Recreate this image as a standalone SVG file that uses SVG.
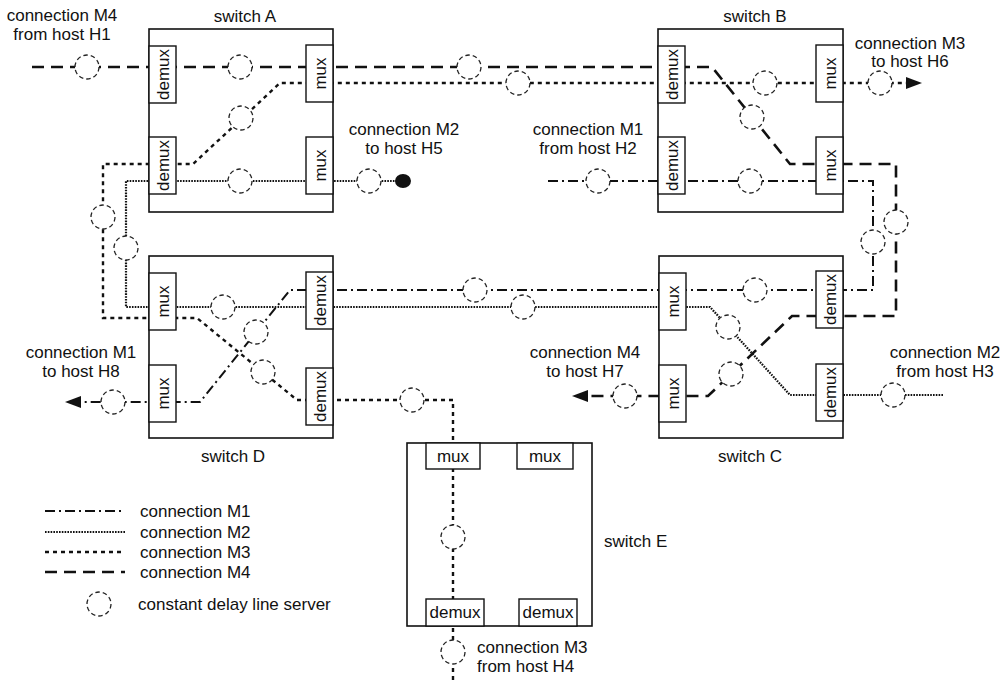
<svg xmlns="http://www.w3.org/2000/svg" width="1002" height="680" viewBox="0 0 1002 680">
<defs>
<style>
text{font-family:"Liberation Sans",Arial,Helvetica,sans-serif;font-size:17px;fill:#111}
.c{text-anchor:middle}
.sw{fill:none;stroke:#111;stroke-width:1.6}
.blk{fill:#fff;stroke:#111;stroke-width:1.4}
.srv{fill:#fff;stroke:#222;stroke-width:1.3;stroke-dasharray:4.5 3}
.m1{fill:none;stroke:#111;stroke-width:2;stroke-dasharray:10 4 2 4}
.m2{fill:none;stroke:#111;stroke-width:2.2;stroke-dasharray:1.6 1.2}
.m3{fill:none;stroke:#111;stroke-width:2.4;stroke-dasharray:4 4}
.m4{fill:none;stroke:#111;stroke-width:2.6;stroke-dasharray:12 7}
.arr{fill:#111}
</style>
</defs>
<rect width="1002" height="680" fill="#fff"/>

<g id="connectors">
  <path class="m4" d="M32,67 H712 L790,164 H896 V316 H792 L708,396 H588"/>
  <polygon class="arr" points="572,396 588,390 588,402"/>
  <path class="m3" d="M453,680 V400 H297 L197,318 H103 V164 H193 L280,83 H906"/>
  <polygon class="arr" points="922,83 906,77 906,89"/>
  <path class="m2" d="M943,395 H790 L710,307 H126 V181 H396"/>
  <ellipse class="arr" cx="403" cy="181" rx="8" ry="7"/>
  <path class="m1" d="M548,181 H873 V290 H290 L200,402 H80"/>
  <polygon class="arr" points="65,402 81,396 81,408"/>
</g>

<g id="servers">
  <circle class="srv" cx="87" cy="67" r="12"/>
  <circle class="srv" cx="240" cy="67" r="12"/>
  <circle class="srv" cx="469" cy="67" r="12"/>
  <circle class="srv" cx="752" cy="117" r="12"/>
  <circle class="srv" cx="896" cy="222" r="12"/>
  <circle class="srv" cx="731" cy="374" r="12"/>
  <circle class="srv" cx="625" cy="396" r="12"/>
  <circle class="srv" cx="453" cy="652" r="12"/>
  <circle class="srv" cx="453" cy="537" r="12"/>
  <circle class="srv" cx="412" cy="400" r="12"/>
  <circle class="srv" cx="263" cy="372" r="12"/>
  <circle class="srv" cx="103" cy="217" r="12"/>
  <circle class="srv" cx="241" cy="118" r="12"/>
  <circle class="srv" cx="518" cy="83" r="12"/>
  <circle class="srv" cx="765" cy="83" r="12"/>
  <circle class="srv" cx="880" cy="83" r="12"/>
  <circle class="srv" cx="893" cy="395" r="12"/>
  <circle class="srv" cx="728" cy="327" r="12"/>
  <circle class="srv" cx="523" cy="307" r="12"/>
  <circle class="srv" cx="223" cy="307" r="12"/>
  <circle class="srv" cx="126" cy="248" r="12"/>
  <circle class="srv" cx="240" cy="181" r="12"/>
  <circle class="srv" cx="369" cy="181" r="12"/>
  <circle class="srv" cx="598" cy="181" r="12"/>
  <circle class="srv" cx="750" cy="181" r="12"/>
  <circle class="srv" cx="873" cy="242" r="12"/>
  <circle class="srv" cx="755" cy="290" r="12"/>
  <circle class="srv" cx="475" cy="290" r="12"/>
  <circle class="srv" cx="256" cy="332" r="12"/>
  <circle class="srv" cx="113" cy="402" r="12"/>
</g>

<g id="switchA">
  <rect class="sw" x="149" y="29" width="184" height="183"/>
  <text class="c" x="245" y="22">switch A</text>
  <rect class="blk" x="149" y="46" width="27" height="57"/>
  <text class="c" transform="rotate(-90 162.5 74.5)" x="162.5" y="80.5">demux</text>
  <rect class="blk" x="149" y="137" width="27" height="57"/>
  <text class="c" transform="rotate(-90 162.5 165.5)" x="162.5" y="171.5">demux</text>
  <rect class="blk" x="306" y="45" width="27" height="57"/>
  <text class="c" transform="rotate(-90 319.5 73.5)" x="319.5" y="79.5">mux</text>
  <rect class="blk" x="306" y="137" width="27" height="57"/>
  <text class="c" transform="rotate(-90 319.5 165.5)" x="319.5" y="171.5">mux</text>
</g>

<g id="switchB">
  <rect class="sw" x="658" y="29" width="185" height="183"/>
  <text class="c" x="755" y="22">switch B</text>
  <rect class="blk" x="658" y="46" width="27" height="57"/>
  <text class="c" transform="rotate(-90 671.5 74.5)" x="671.5" y="80.5">demux</text>
  <rect class="blk" x="658" y="137" width="27" height="57"/>
  <text class="c" transform="rotate(-90 671.5 165.5)" x="671.5" y="171.5">demux</text>
  <rect class="blk" x="816" y="45" width="27" height="57"/>
  <text class="c" transform="rotate(-90 829.5 73.5)" x="829.5" y="79.5">mux</text>
  <rect class="blk" x="816" y="137" width="27" height="57"/>
  <text class="c" transform="rotate(-90 829.5 165.5)" x="829.5" y="171.5">mux</text>
</g>

<g id="switchD">
  <rect class="sw" x="149" y="256" width="184" height="182"/>
  <text class="c" x="233" y="462">switch D</text>
  <rect class="blk" x="149" y="273" width="27" height="57"/>
  <text class="c" transform="rotate(-90 162.5 301.5)" x="162.5" y="307.5">mux</text>
  <rect class="blk" x="149" y="365" width="27" height="57"/>
  <text class="c" transform="rotate(-90 162.5 393.5)" x="162.5" y="399.5">mux</text>
  <rect class="blk" x="306" y="272" width="27" height="57"/>
  <text class="c" transform="rotate(-90 319.5 300.5)" x="319.5" y="306.5">demux</text>
  <rect class="blk" x="306" y="368" width="27" height="57"/>
  <text class="c" transform="rotate(-90 319.5 396.5)" x="319.5" y="402.5">demux</text>
</g>

<g id="switchC">
  <rect class="sw" x="659" y="256" width="184" height="182"/>
  <text class="c" x="750" y="462">switch C</text>
  <rect class="blk" x="659" y="273" width="27" height="57"/>
  <text class="c" transform="rotate(-90 672.5 301.5)" x="672.5" y="307.5">mux</text>
  <rect class="blk" x="659" y="365" width="27" height="57"/>
  <text class="c" transform="rotate(-90 672.5 393.5)" x="672.5" y="399.5">mux</text>
  <rect class="blk" x="816" y="271" width="27" height="57"/>
  <text class="c" transform="rotate(-90 829.5 299.5)" x="829.5" y="305.5">demux</text>
  <rect class="blk" x="816" y="364" width="27" height="57"/>
  <text class="c" transform="rotate(-90 829.5 392.5)" x="829.5" y="398.5">demux</text>
</g>

<g id="switchE">
  <rect class="sw" x="407" y="443" width="185" height="183"/>
  <text x="604" y="547">switch E</text>
  <rect class="blk" x="426" y="443" width="54" height="26"/>
  <text class="c" x="453" y="462">mux</text>
  <rect class="blk" x="517" y="443" width="56" height="26"/>
  <text class="c" x="545" y="462">mux</text>
  <rect class="blk" x="426" y="599" width="58" height="27"/>
  <text class="c" x="455" y="618">demux</text>
  <rect class="blk" x="519" y="599" width="58" height="27"/>
  <text class="c" x="548" y="618">demux</text>
</g>

<g id="host-labels">
  <text class="c" x="62" y="21">connection M4</text>
  <text class="c" x="62" y="40">from host H1</text>
  <text class="c" x="910" y="49">connection M3</text>
  <text class="c" x="910" y="67">to host H6</text>
  <text class="c" x="404" y="135">connection M2</text>
  <text class="c" x="404" y="154">to host H5</text>
  <text class="c" x="588" y="135">connection M1</text>
  <text class="c" x="588" y="154">from host H2</text>
  <text class="c" x="81" y="358">connection M1</text>
  <text class="c" x="81" y="377">to host H8</text>
  <text class="c" x="585" y="358">connection M4</text>
  <text class="c" x="585" y="377">to host H7</text>
  <text class="c" x="945" y="358">connection M2</text>
  <text class="c" x="945" y="377">from host H3</text>
  <text x="477" y="653">connection M3</text>
  <text x="477" y="672">from host H4</text>
</g>

<g id="legend">
  <path class="m1" d="M45,511 H125"/>
  <text x="140" y="517">connection M1</text>
  <path class="m2" d="M45,532 H125"/>
  <text x="140" y="538">connection M2</text>
  <path class="m3" d="M45,552 H125"/>
  <text x="140" y="558">connection M3</text>
  <path class="m4" d="M45,572 H125"/>
  <text x="140" y="578">connection M4</text>
  <circle class="srv" cx="99" cy="604" r="12"/>
  <text x="138" y="610">constant delay line server</text>
</g>
</svg>
